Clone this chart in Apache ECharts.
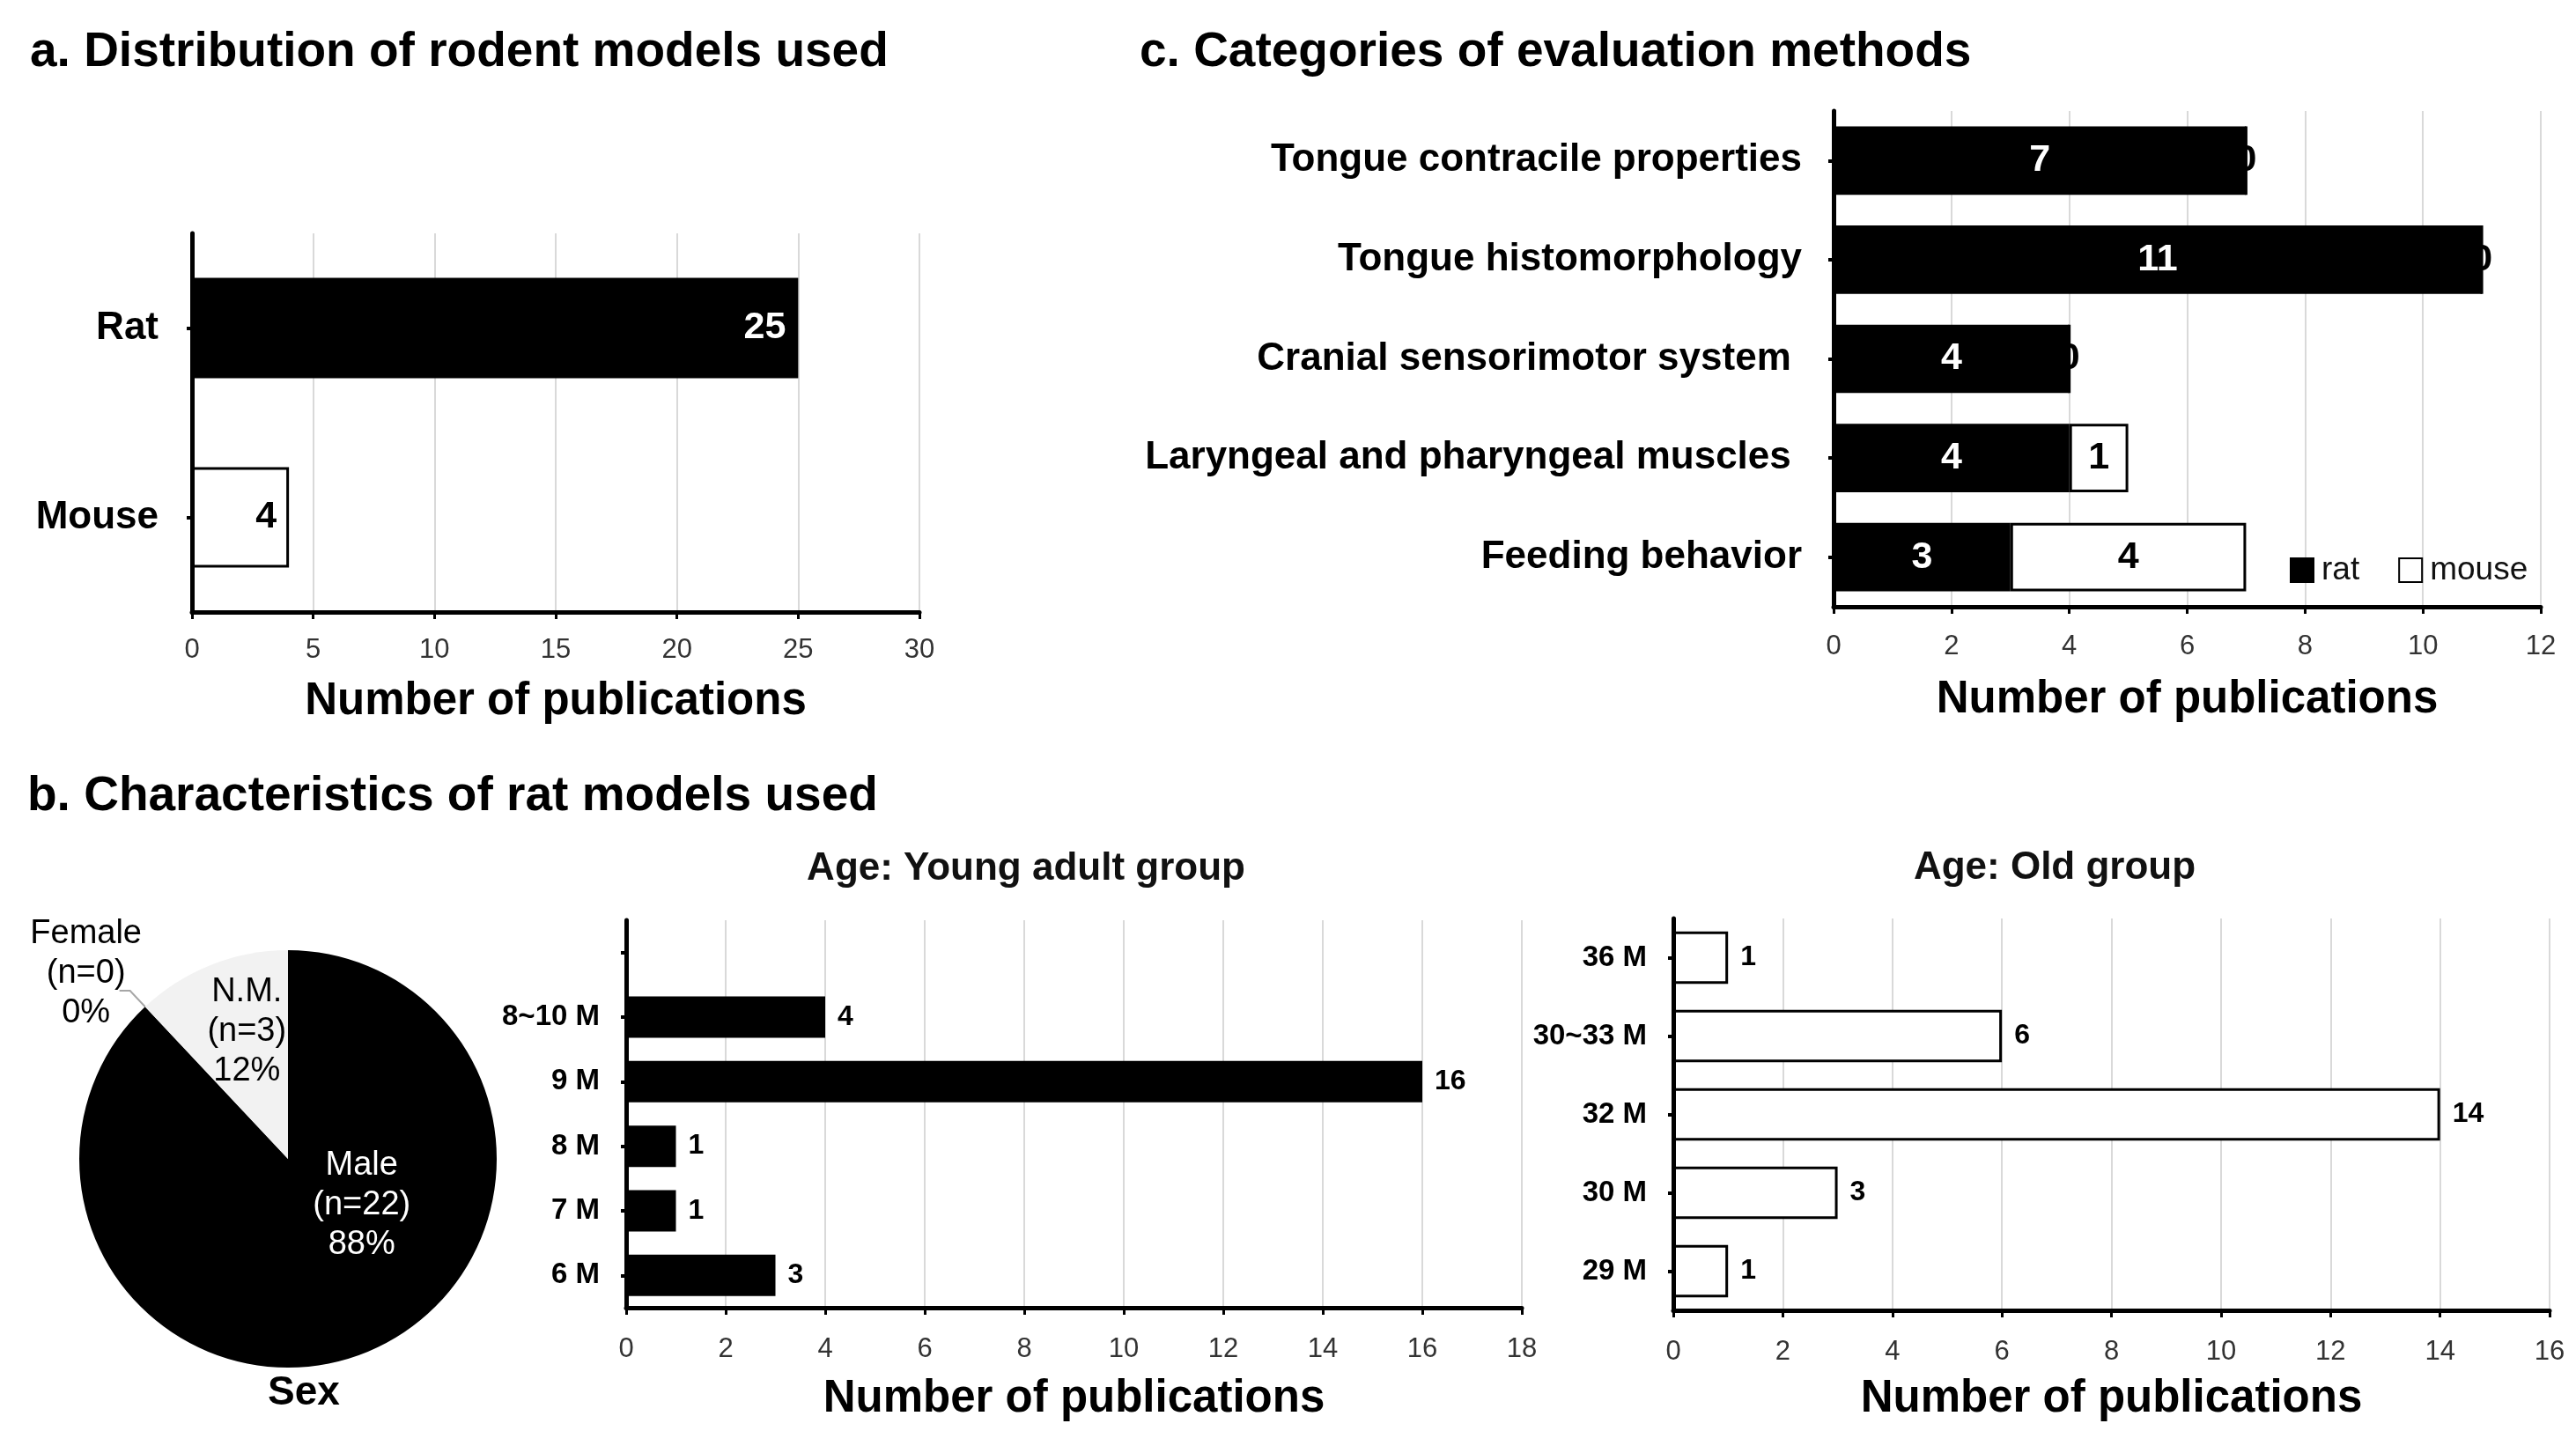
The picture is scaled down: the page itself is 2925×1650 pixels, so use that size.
<!DOCTYPE html>
<html>
<head>
<meta charset="utf-8">
<title>Rodent models in publications</title>
<script src="https://cdn.jsdelivr.net/npm/echarts@6/dist/echarts.min.js"></script>
<style>
  html, body { margin: 0; padding: 0; background: #fff; }
  #chart { width: 2925px; height: 1650px; }
</style>
</head>
<body>
<div id="chart"></div>
<script>
// a. rodent models
const modelCats = ['Rat', 'Mouse'];
const modelCounts = [25, 4];

// c. evaluation methods (top to bottom)
const methodCats = [
  'Tongue contracile properties',
  'Tongue histomorphology',
  'Cranial sensorimotor system ',
  'Laryngeal and pharyngeal muscles ',
  'Feeding behavior'
];
const methodRat = [7, 11, 4, 4, 3];
const methodMouse = [0, 0, 0, 1, 4];

// b. rat models: sex
const sexNames = ['Male', 'Female', 'N.M.'];
const sexCounts = [22, 0, 3];

// b. rat models: age (top to bottom)
const youngCats = ['', '8~10 M', '9 M', '8 M', '7 M', '6 M'];
const youngCounts = [null, 4, 16, 1, 1, 3];
const oldCats = ['36 M', '30~33 M', '32 M', '30 M', '29 M'];
const oldCounts = [1, 6, 14, 3, 1];

const FONT = '"Liberation Sans", Arial, sans-serif';

function valueAxis(gridIndex, max, interval, labelMargin, nameGap) {
  return {
    type: 'value', gridIndex: gridIndex, min: 0, max: max, interval: interval,
    name: 'Number of publications', nameLocation: 'middle', nameGap: nameGap,
    nameTextStyle: { fontFamily: FONT, fontWeight: 'bold', fontSize: 51, color: '#000' },
    axisLine: { show: true, lineStyle: { color: '#000', width: 5 } },
    axisTick: { show: true, length: 8, lineStyle: { color: '#000', width: 3 } },
    axisLabel: { margin: labelMargin, fontFamily: FONT, fontSize: 31, color: '#333' },
    splitLine: { show: true, lineStyle: { color: '#d9d9d9', width: 2 } }
  };
}

function catAxis(gridIndex, data, fontSize, margin) {
  return {
    type: 'category', gridIndex: gridIndex, data: data, inverse: true,
    axisLine: { show: true, lineStyle: { color: '#000', width: 5 } },
    axisTick: { show: true, alignWithLabel: true, length: 6, lineStyle: { color: '#000', width: 4 } },
    axisLabel: { margin: margin, fontFamily: FONT, fontWeight: 'bold', fontSize: fontSize, color: '#000' },
    splitLine: { show: false }
  };
}

const chart = echarts.init(document.getElementById('chart'), null, { renderer: 'canvas' });

const option = {
  backgroundColor: '#fff',
  animation: false,
  graphic: [
    { type: 'text', x: 34, y: 60, style: { text: 'a. Distribution of rodent models used', font: 'bold 55px ' + FONT, fill: '#000', verticalAlign: 'middle' } },
    { type: 'text', x: 1294, y: 60, style: { text: 'c. Categories of evaluation methods', font: 'bold 55px ' + FONT, fill: '#000', verticalAlign: 'middle' } },
    { type: 'text', x: 31, y: 905, style: { text: 'b. Characteristics of rat models used', font: 'bold 55px ' + FONT, fill: '#000', verticalAlign: 'middle' } },
    { type: 'text', x: 1165, y: 987, style: { text: 'Age: Young adult group', font: 'bold 44px ' + FONT, fill: '#111', align: 'center', verticalAlign: 'middle' } },
    { type: 'text', x: 2333, y: 986, style: { text: 'Age: Old group', font: 'bold 44px ' + FONT, fill: '#111', align: 'center', verticalAlign: 'middle' } },
    { type: 'text', x: 345, y: 1582, style: { text: 'Sex', font: 'bold 46px ' + FONT, fill: '#000', align: 'center', verticalAlign: 'middle' } }
  ],
  legend: {
    data: ['rat', 'mouse'],
    left: 2595, top: 624,
    icon: 'rect', itemWidth: 26, itemHeight: 27, itemGap: 44,
    textStyle: { fontFamily: FONT, fontSize: 37, color: '#111', padding: [0, 0, 0, 4] }
  },
  grid: [
    { left: 218, top: 265, width: 826, height: 430 },
    { left: 2082, top: 126, width: 803, height: 563 },
    { left: 711, top: 1045, width: 1017, height: 440 },
    { left: 1900, top: 1043, width: 995, height: 445 }
  ],
  xAxis: [
    valueAxis(0, 30, 5, 28, 76),
    valueAxis(1, 12, 2, 30, 80),
    valueAxis(2, 18, 2, 32, 78),
    valueAxis(3, 16, 2, 32, 75)
  ],
  yAxis: [
    catAxis(0, modelCats, 44, 38),
    catAxis(1, methodCats, 44, 36),
    catAxis(2, youngCats, 33, 30),
    catAxis(3, oldCats, 33, 30)
  ],
  series: [
    {
      type: 'bar', xAxisIndex: 0, yAxisIndex: 0, barCategoryGap: '47%',
      data: modelCounts.map(function (v, i) {
        return i === 0
          ? { value: v, itemStyle: { color: '#000' }, label: { color: '#fff' } }
          : { value: v, itemStyle: { color: '#fff' }, label: { color: '#000' } };
      }),
      itemStyle: { borderColor: '#000', borderWidth: 3 },
      label: { show: true, position: 'insideRight', distance: 14, fontFamily: FONT, fontWeight: 'bold', fontSize: 43 }
    },
    {
      name: 'rat', type: 'bar', xAxisIndex: 1, yAxisIndex: 1, stack: 'methods', barCategoryGap: '31%',
      data: methodRat,
      itemStyle: { color: '#000', borderColor: '#000', borderWidth: 2 },
      label: { show: true, position: 'inside', color: '#fff', fontFamily: FONT, fontWeight: 'bold', fontSize: 43 }
    },
    {
      name: 'mouse', type: 'bar', xAxisIndex: 1, yAxisIndex: 1, stack: 'methods',
      data: methodMouse,
      itemStyle: { color: '#fff', borderColor: '#000', borderWidth: 3 },
      label: { show: true, position: 'inside', color: '#000', fontFamily: FONT, fontWeight: 'bold', fontSize: 43 }
    },
    {
      type: 'bar', xAxisIndex: 2, yAxisIndex: 2, barCategoryGap: '36%',
      data: youngCounts,
      itemStyle: { color: '#000', borderColor: '#000', borderWidth: 2 },
      label: { show: true, position: 'right', distance: 14, color: '#000', fontFamily: FONT, fontWeight: 'bold', fontSize: 32 }
    },
    {
      type: 'bar', xAxisIndex: 3, yAxisIndex: 3, barCategoryGap: '33%',
      data: oldCounts,
      itemStyle: { color: '#fff', borderColor: '#000', borderWidth: 3 },
      label: { show: true, position: 'right', distance: 14, color: '#000', fontFamily: FONT, fontWeight: 'bold', fontSize: 32 }
    },
    {
      type: 'pie', center: [327, 1316], radius: 237, startAngle: 90, clockwise: true,
      avoidLabelOverlap: false,
      data: sexNames.map(function (n, i) {
        const item = { name: n, value: sexCounts[i] };
        if (n === 'Male') {
          item.itemStyle = { color: '#000' };
          item.label = { color: '#fff' };
        } else if (n === 'Female') {
          item.itemStyle = { color: '#7f7f7f' };
          item.label = { position: 'outside' };
          item.labelLine = { show: true, length: 25, length2: 12, lineStyle: { color: '#a6a6a6', width: 2 } };
        } else {
          item.itemStyle = { color: '#f2f2f2' };
        }
        return item;
      }),
      label: {
        show: true, position: 'inside', color: '#000',
        fontFamily: FONT, fontSize: 38, lineHeight: 45,
        formatter: function (p) { return p.name + '\n(n=' + p.value + ')\n' + Math.round(p.percent) + '%'; }
      },
      labelLayout: function (p) {
        if (p.dataIndex === 0) return { dx: 39, dy: -60, align: 'center' };
        if (p.dataIndex === 1) return { dx: -33, dy: -19, align: 'center' };
        return { dx: -2, dy: -32, align: 'center' };
      }
    }
  ]
};

chart.setOption(option);
</script>
</body>
</html>
